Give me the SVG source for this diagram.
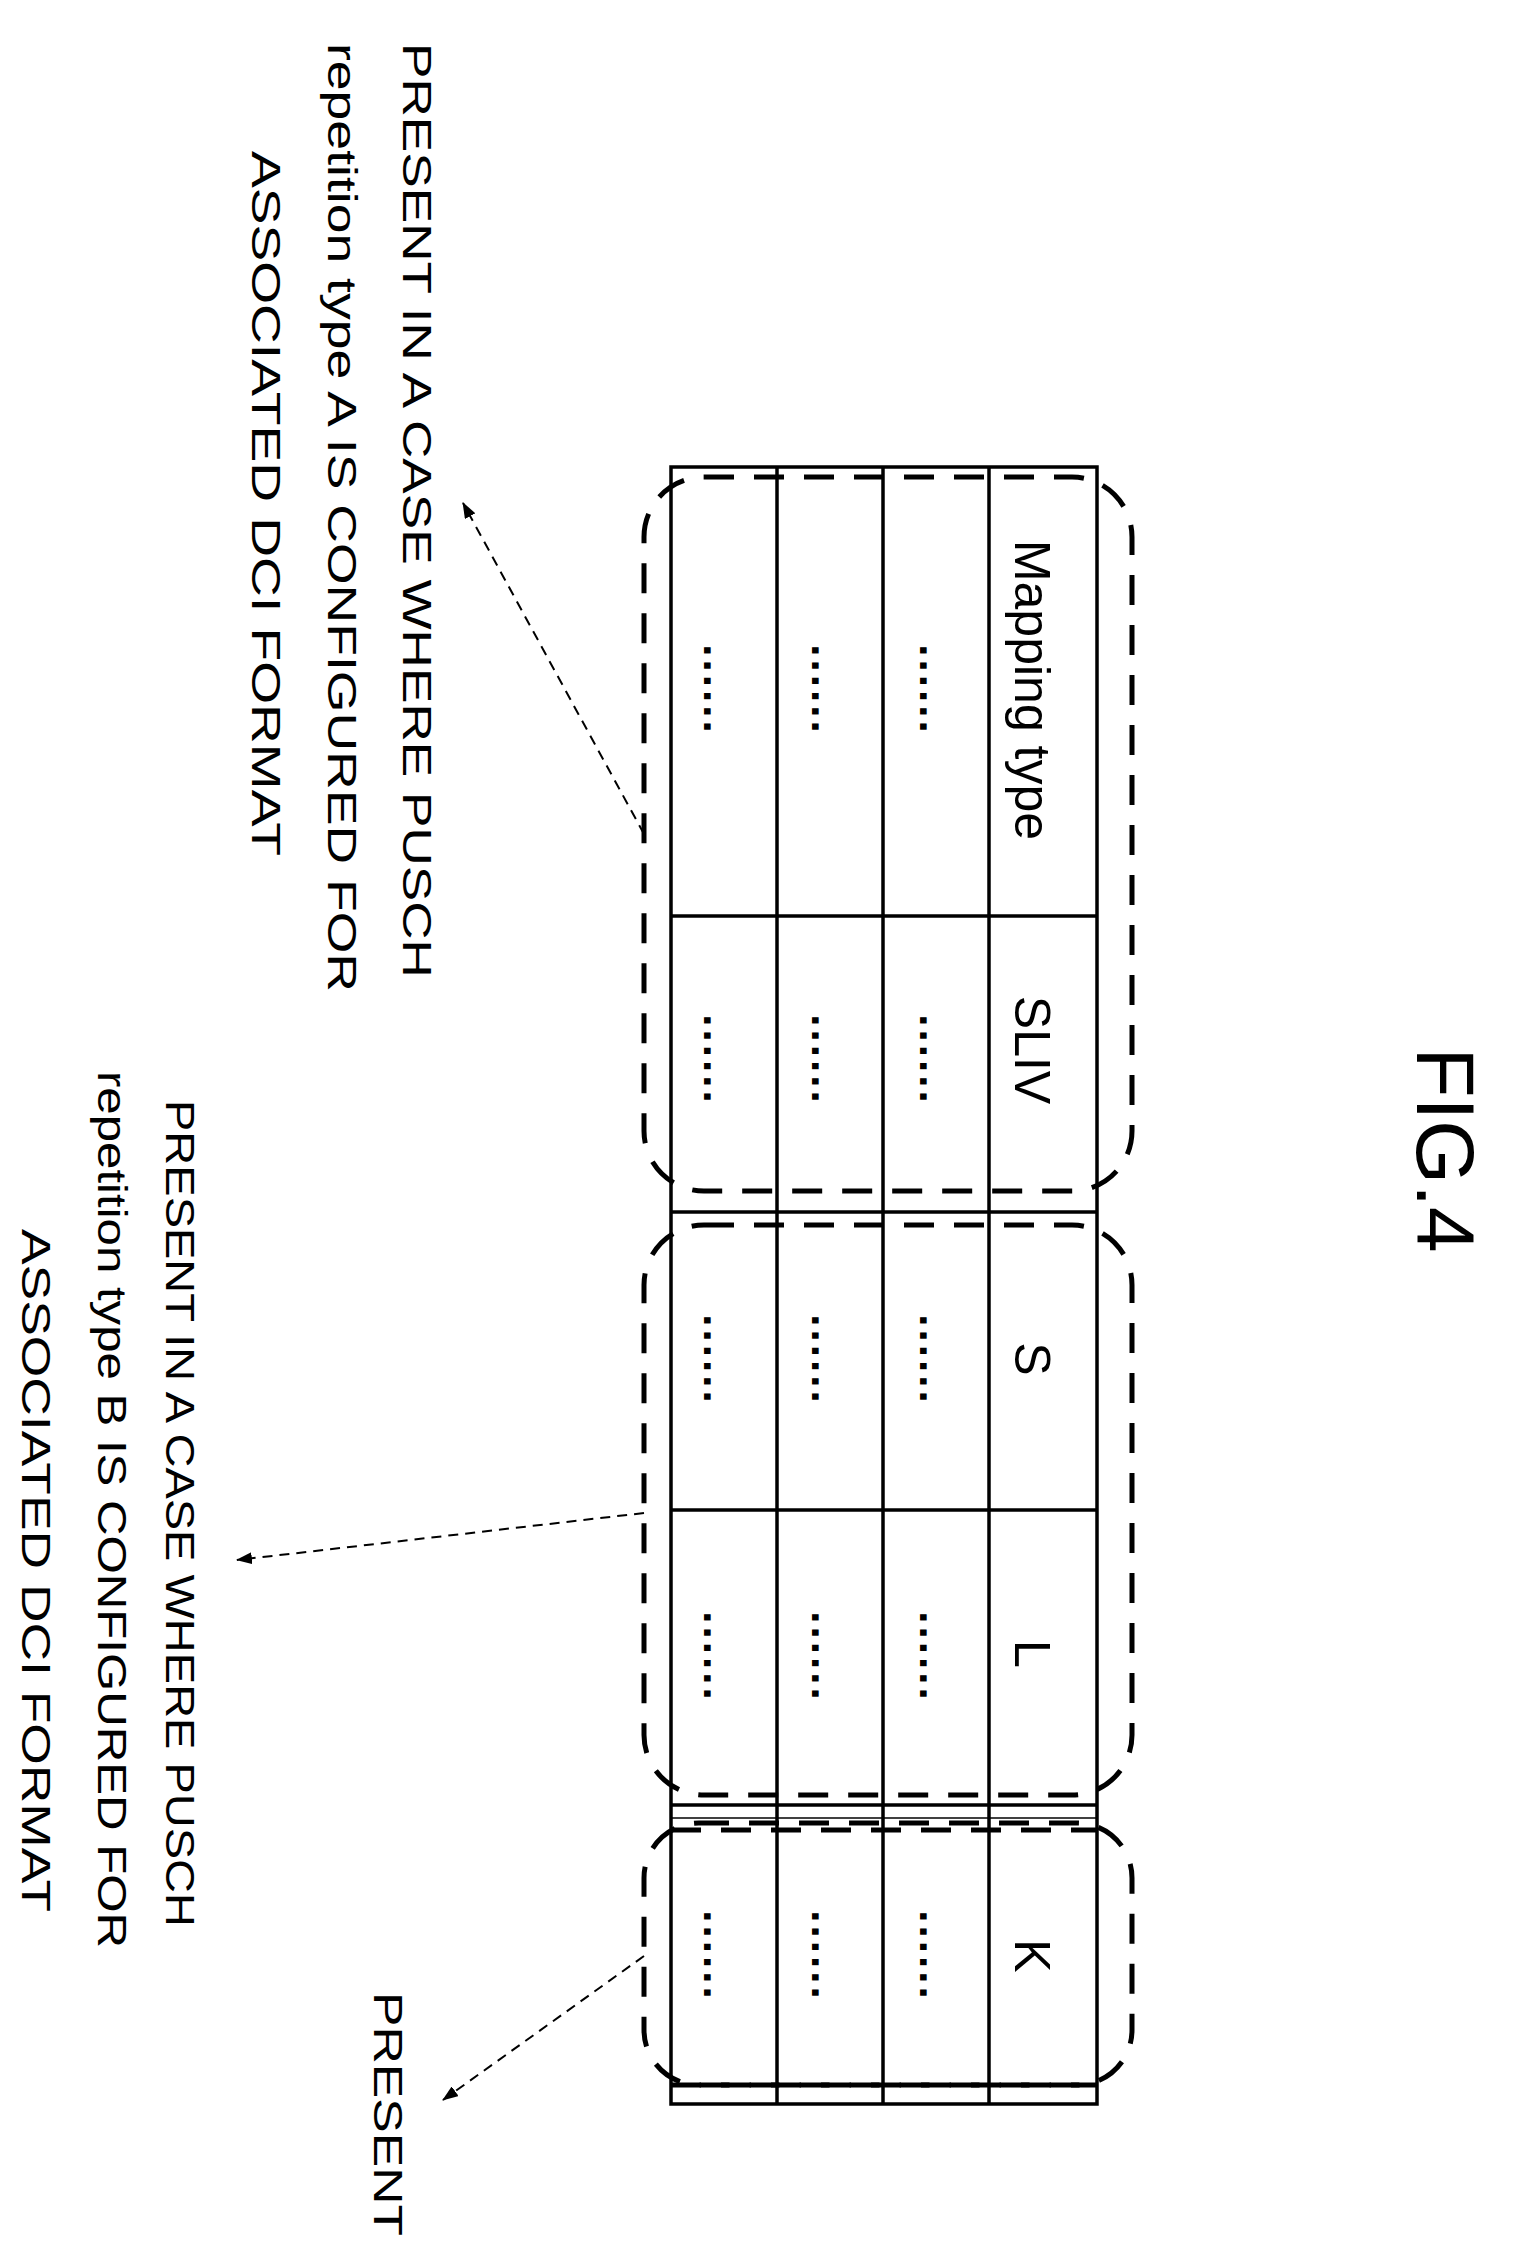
<svg xmlns="http://www.w3.org/2000/svg" width="1514" height="2246" viewBox="0 0 1514 2246">
<style>
.t{font-family:"Liberation Sans",Arial,sans-serif;fill:#000;dominant-baseline:central}
.d{font-family:"Liberation Sans",Arial,sans-serif;fill:#000;dominant-baseline:central;letter-spacing:3px}
.grid{stroke:#000;stroke-width:3.5;fill:none}
.grp{stroke:#000;stroke-width:5;fill:none;stroke-dasharray:30 20}
.arr{stroke:#000;stroke-width:2;fill:none;stroke-dasharray:10 7}
</style>
<defs>
<marker id="ah" markerWidth="16" markerHeight="12" refX="15" refY="6" orient="auto" markerUnits="userSpaceOnUse">
<path d="M0,0 L16,6 L0,12 Z" fill="#000"/>
</marker>
</defs>
<g id="title"><text class="t" transform="translate(1445,1150) rotate(90)" font-size="82" text-anchor="middle">FIG.4</text></g>
<g id="table">
<rect class="grid" x="671" y="467" width="426" height="1637"/>
<line class="grid" x1="777" y1="467" x2="777" y2="2104"/>
<line class="grid" x1="883" y1="467" x2="883" y2="2104"/>
<line class="grid" x1="989" y1="467" x2="989" y2="2104"/>
<line class="grid" x1="671" y1="916" x2="1097" y2="916"/>
<line class="grid" x1="671" y1="1212" x2="1097" y2="1212"/>
<line class="grid" x1="671" y1="1510" x2="1097" y2="1510"/>
<line class="grid" x1="671" y1="1805" x2="1097" y2="1805"/>
<line stroke="#000" stroke-width="1.5" x1="671" y1="1818" x2="1097" y2="1818"/>
<g font-size="50">
<text class="t" transform="translate(1032,690) rotate(90)" text-anchor="middle">Mapping type</text>
<text class="t" transform="translate(1032,1050) rotate(90)" text-anchor="middle">SLIV</text>
<text class="t" transform="translate(1032,1359) rotate(90)" text-anchor="middle">S</text>
<text class="t" transform="translate(1032,1654) rotate(90)" text-anchor="middle">L</text>
<text class="t" transform="translate(1032,1956) rotate(90)" text-anchor="middle">K</text>
</g>
<g font-size="44" font-weight="bold">
<text class="d" transform="translate(719,690) rotate(90)" text-anchor="middle">......</text>
<text class="d" transform="translate(827,690) rotate(90)" text-anchor="middle">......</text>
<text class="d" transform="translate(935,690) rotate(90)" text-anchor="middle">......</text>
<text class="d" transform="translate(719,1060) rotate(90)" text-anchor="middle">......</text>
<text class="d" transform="translate(827,1060) rotate(90)" text-anchor="middle">......</text>
<text class="d" transform="translate(935,1060) rotate(90)" text-anchor="middle">......</text>
<text class="d" transform="translate(719,1360) rotate(90)" text-anchor="middle">......</text>
<text class="d" transform="translate(827,1360) rotate(90)" text-anchor="middle">......</text>
<text class="d" transform="translate(935,1360) rotate(90)" text-anchor="middle">......</text>
<text class="d" transform="translate(719,1657) rotate(90)" text-anchor="middle">......</text>
<text class="d" transform="translate(827,1657) rotate(90)" text-anchor="middle">......</text>
<text class="d" transform="translate(935,1657) rotate(90)" text-anchor="middle">......</text>
<text class="d" transform="translate(719,1956) rotate(90)" text-anchor="middle">......</text>
<text class="d" transform="translate(827,1956) rotate(90)" text-anchor="middle">......</text>
<text class="d" transform="translate(935,1956) rotate(90)" text-anchor="middle">......</text>
</g>
</g>
<g id="groupA"><rect class="grp" x="644" y="477" width="488" height="714" rx="60"/></g>
<g id="groupB"><rect class="grp" x="644" y="1225" width="488" height="570" rx="60"/></g>
<g id="groupK">
<rect class="grp" x="644" y="1823" width="488" height="262" rx="55"/>
<line class="grp" x1="671" y1="1830" x2="1097" y2="1830" stroke-width="4"/>
<line class="grp" x1="671" y1="2085" x2="1097" y2="2085" stroke-width="4"/>
</g>
<g id="labelA" font-size="40">
<text class="t" transform="translate(417,43) rotate(90)" textLength="935" lengthAdjust="spacingAndGlyphs">PRESENT IN A CASE WHERE PUSCH</text>
<text class="t" transform="translate(342,43) rotate(90)" textLength="949" lengthAdjust="spacingAndGlyphs">repetition type A IS CONFIGURED FOR</text>
<text class="t" transform="translate(266,151) rotate(90)" textLength="705" lengthAdjust="spacingAndGlyphs">ASSOCIATED DCI FORMAT</text>
</g>
<g id="labelB" font-size="40">
<text class="t" transform="translate(180,1100) rotate(90)" textLength="827" lengthAdjust="spacingAndGlyphs">PRESENT IN A CASE WHERE PUSCH</text>
<text class="t" transform="translate(112,1071) rotate(90)" textLength="877" lengthAdjust="spacingAndGlyphs">repetition type B IS CONFIGURED FOR</text>
<text class="t" transform="translate(36,1229) rotate(90)" textLength="683" lengthAdjust="spacingAndGlyphs">ASSOCIATED DCI FORMAT</text>
</g>
<g id="labelK" font-size="40">
<text class="t" transform="translate(388,1992) rotate(90)" textLength="244" lengthAdjust="spacingAndGlyphs">PRESENT</text>
</g>
<g id="connectors">
<line class="arr" x1="644" y1="834" x2="463" y2="503" marker-end="url(#ah)"/>
<line class="arr" x1="644" y1="1513" x2="237" y2="1560" marker-end="url(#ah)"/>
<line class="arr" x1="644" y1="1956" x2="443" y2="2100" marker-end="url(#ah)"/>
</g>
</svg>
